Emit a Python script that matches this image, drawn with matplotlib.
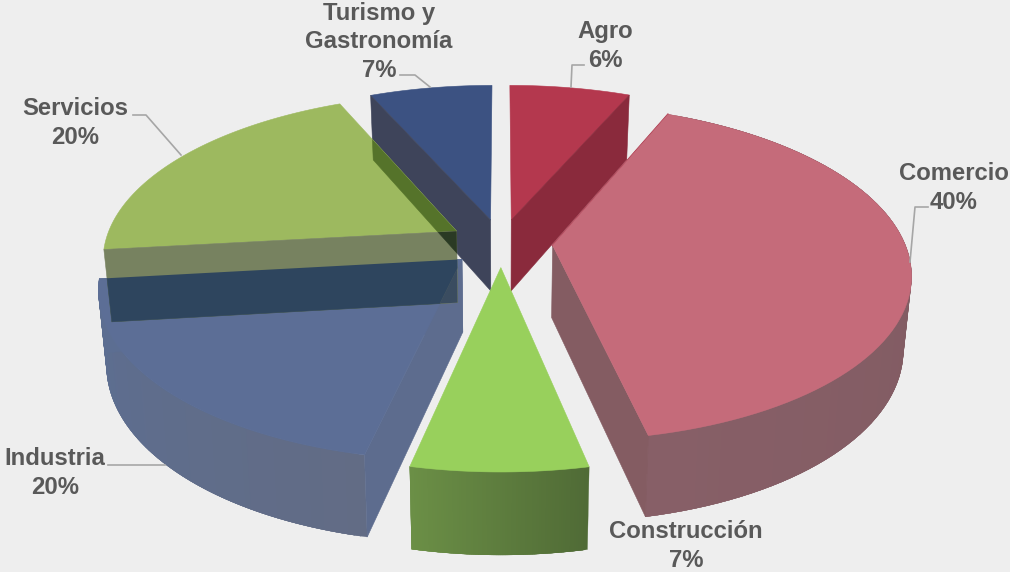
import numpy as np
import matplotlib
matplotlib.use("Agg")
import matplotlib.pyplot as plt
from matplotlib.patches import Polygon
from matplotlib.colors import to_rgb

categories = ["Agro", "Comercio", "Construcción", "Industria", "Servicios", "Turismo y\nGastronomía"]
values = [6.49, 40.21, 6.7, 19.8, 20.2, 6.6]
top_colors = ["#B4384E", "#C56B7A", "#98D05C", "#5C6E96", "#9DB95F", "#3C5282"]
explode = [0.147] * 6

BG = "#EEEEEE"
TEXT = "#595959"
LEAD = "#A6A6A6"

CX, CY, A, B, P, DEPTH, SHRINK = 501, 243, 352, 163, 0.16, 72, 0.98

fig = plt.figure(figsize=(10.1, 5.72), dpi=100, facecolor=BG)
ax = fig.add_axes([0, 0, 1, 1])
ax.set_xlim(0, 1010)
ax.set_ylim(572, 0)
ax.axis("off")


def project(X, Y, bottom=False):
    X, Y = np.asarray(X, float), np.asarray(Y, float)
    w = 1 + P * Y
    sx, sy = A * X / w, -B * Y / w
    if bottom:
        sx = sx * SHRINK
        sy = sy + DEPTH / w ** 0.7
    return np.column_stack([CX + sx, CY + sy])


cum = np.concatenate([[0], np.cumsum(values)]) / sum(values) * 2 * np.pi
geo = {}
for i, name in enumerate(categories):
    a0, a1 = cum[i], cum[i + 1]
    mid = (a0 + a1) / 2
    ox, oy = explode[i] * np.sin(mid), explode[i] * np.cos(mid)
    t = np.linspace(a0, a1, 80)
    ax_, ay_ = ox + np.sin(t), oy + np.cos(t)
    geo[i] = dict(
        apex_t=project([ox], [oy]), apex_b=project([ox], [oy], True),
        arc_t=project(ax_, ay_), arc_b=project(ax_, ay_, True),
    )


def top_poly(i):
    g = geo[i]
    return np.vstack([g["apex_t"], g["arc_t"]])


def start_wall(i):
    g = geo[i]
    return np.vstack([g["apex_t"], g["arc_t"][:1], g["arc_b"][:1], g["apex_b"]])


def end_wall(i):
    g = geo[i]
    return np.vstack([g["apex_t"], g["arc_t"][-1:], g["arc_b"][-1:], g["apex_b"]])


def fill(pts, color, z, clips=()):
    p = Polygon(pts, closed=True, facecolor=color, edgecolor=color, linewidth=0.4, zorder=z)
    ax.add_patch(p)
    for c in clips:
        p.set_clip_path(Polygon(c, closed=True, transform=ax.transData))
    return p


def outer_wall(i, c0, c1, z):
    g = geo[i]
    n = len(g["arc_t"]) - 1
    c0, c1 = np.array(to_rgb(c0)), np.array(to_rgb(c1))
    for k in range(n):
        q = np.vstack([g["arc_t"][k:k + 4], g["arc_b"][k:k + 4][::-1]])
        color = tuple(c0 + (c1 - c0) * k / (n - 1))
        ax.add_patch(Polygon(q, closed=True, facecolor=color, edgecolor=color,
                             linewidth=0.2, zorder=z))


AGRO, COM, CONS, IND, SERV, TUR = range(6)

# Agro
fill(top_poly(AGRO), top_colors[AGRO], 1)
fill(end_wall(AGRO), "#8A2A3C", 2)

# Turismo
fill(top_poly(TUR), top_colors[TUR], 1)
fill(start_wall(TUR), "#3E445A", 2)

# Industria
outer_wall(IND, "#626C85", "#5C6E92", 3)
fill(end_wall(IND), "#5C6E92", 3)
fill(start_wall(IND), "#5D6C8E", 3)
fill(top_poly(IND), top_colors[IND], 4)

# Servicios, with the translucent overlaps of neighbouring faces
fill(top_poly(SERV), top_colors[SERV], 5)
fill(start_wall(TUR), "#55732A", 6, [top_poly(SERV)])
fill(start_wall(SERV), "#778260", 7)
fill(start_wall(SERV), "#2E455E", 8, [top_poly(IND)])
fill(start_wall(TUR), "#2A3A24", 9, [start_wall(SERV)])
fill(start_wall(IND), "#3A4C60", 9, [start_wall(SERV)])

# Comercio
outer_wall(COM, "#7C585E", "#875F67", 3)
fill(end_wall(COM), "#845C62", 3)
fill(top_poly(COM), top_colors[COM], 4)
ax.plot(*np.vstack([geo[COM]["apex_t"], geo[COM]["arc_t"][:1]]).T, color="#A82C42", lw=1.2, zorder=3.5)

# Construccion
outer_wall(CONS, "#506B36", "#6B8F46", 3)
fill(top_poly(CONS), top_colors[CONS], 4)

# Labels
label_pos = [(605, 46), (954, 188), (686, 546), (55, 473), (75, 123), (379, 42)]
for name, v, (x, y) in zip(categories, values, label_pos):
    ax.text(x, y, f"{name}\n{round(v)}%", ha="center", va="center", color=TEXT,
            family="Liberation Sans", weight="bold", fontsize=17.2, linespacing=1.3, zorder=20)

leaders = [
    [(571, 87), (572, 65), (584, 65)],
    [(133, 115), (146, 115), (181, 155)],
    [(400, 75), (415, 75), (430, 87)],
    [(928, 207), (915, 207), (910, 262)],
    [(108, 465), (165, 465)],
]
for l in leaders:
    ax.plot(*zip(*l), color=LEAD, lw=1.2, zorder=10)

fig.savefig("out.png", dpi=100, facecolor=BG)
